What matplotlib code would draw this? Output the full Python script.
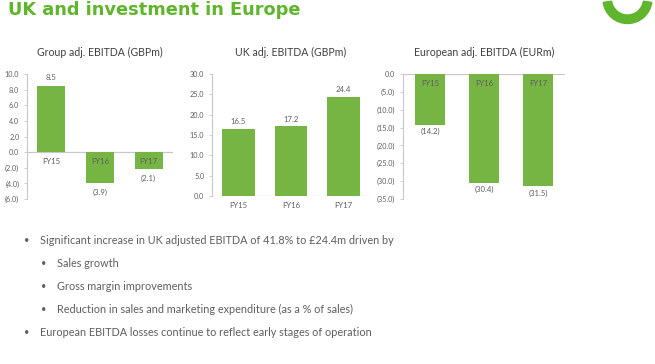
import matplotlib.pyplot as plt
from matplotlib.patches import Wedge

years = ['FY15', 'FY16', 'FY17']
group_ebitda = [8.5, -3.9, -2.1]
uk_ebitda = [16.5, 17.2, 24.4]
europe_ebitda = [-14.2, -30.4, -31.5]

group_ticks = [10, 8, 6, 4, 2, 0, -2, -4, -6]
uk_ticks = [30, 25, 20, 15, 10, 5, 0]
europe_ticks = [0, -5, -10, -15, -20, -25, -30, -35]

bullets = [
    (0, 'Significant increase in UK adjusted EBITDA of 41.8% to £24.4m driven by'),
    (1, 'Sales growth'),
    (1, 'Gross margin improvements'),
    (1, 'Reduction in sales and marketing expenditure (as a % of sales)'),
    (0, 'European EBITDA losses continue to reflect early stages of operation'),
]

green = '#76b543'
head_green = '#5fb52c'
txt = '#5e5e5e'
grid = '#c8c8c8'
plt.rcParams['font.family'] = ['Lato', 'DejaVu Sans']

W, H = 655, 364
fig = plt.figure(figsize=(W / 100, H / 100), dpi=100)

bg = fig.add_axes([0, 0, 1, 1])
bg.set_xlim(0, W)
bg.set_ylim(H, 0)
bg.axis('off')

bg.text(8, 15, 'UK and investment in Europe', color=head_green, fontsize=12.8,
        fontweight='bold', family='DejaVu Sans', va='baseline', ha='left')
bg.add_patch(Wedge((627.5, -1), 24.5, 8, 172, width=8.5, color=head_green))

y = 241
for level, line in bullets:
    bx = 24 if level == 0 else 41
    bg.text(bx, y, '•', color=txt, fontsize=6.5, va='center')
    bg.text(bx + 16, y, line, color=txt, fontsize=7.8, va='center')
    y += 22.8


def fmt(v):
    return f'{v:.1f}' if v >= 0 else f'({-v:.1f})'


def make_axes(px_left, px_right, px_top, px_bottom):
    return fig.add_axes([px_left / W, 1 - px_bottom / H,
                         (px_right - px_left) / W, (px_bottom - px_top) / H])


def style(ax, ticks, lo, hi, title):
    ax.set_ylim(lo, hi)
    ax.set_xlim(-0.5, 2.5)
    ax.set_yticks(ticks)
    ax.set_yticklabels([fmt(t) for t in ticks])
    ax.set_xticks([])
    for s in ['top', 'right', 'bottom']:
        ax.spines[s].set_visible(False)
    ax.spines['left'].set_color(grid)
    ax.spines['left'].set_linewidth(0.8)
    ax.tick_params(axis='y', colors=grid, labelcolor=txt, labelsize=5.2,
                   length=2.5, width=0.6, pad=3)
    ax.axhline(0, color=grid, lw=0.9, zorder=1)
    ax.set_title(title, color='#404040', fontsize=7.6, pad=13)
    ax.patch.set_alpha(0)


# Group
ax1 = make_axes(27, 173, 74, 199)
ax1.bar(range(3), group_ebitda, width=0.58, color=green, zorder=2)
style(ax1, group_ticks, -6, 10, 'Group adj. EBITDA (GBPm)')
for i, v in enumerate(group_ebitda):
    off = 3.5 if v >= 0 else -4.5
    ax1.annotate(fmt(v), (i, v), xytext=(0, off), textcoords='offset points',
                 ha='center', va='bottom' if v >= 0 else 'top', fontsize=5.6, color=txt)
    ax1.annotate(years[i], (i, 0), xytext=(0, -6.5), textcoords='offset points',
                 ha='center', va='center', fontsize=5.6, color=txt)

# UK
ax2 = make_axes(212, 370, 74, 196)
ax2.bar(range(3), uk_ebitda, width=0.62, color=green, zorder=2)
style(ax2, uk_ticks, 0, 30, 'UK adj. EBITDA (GBPm)')
for i, v in enumerate(uk_ebitda):
    ax2.annotate(fmt(v), (i, v), xytext=(0, 2.5), textcoords='offset points',
                 ha='center', va='bottom', fontsize=5.6, color=txt)
    ax2.annotate(years[i], (i, 0), xytext=(0, -6.5), textcoords='offset points',
                 ha='center', va='center', fontsize=5.6, color=txt)

# Europe
ax3 = make_axes(403, 565, 74, 199)
ax3.bar(range(3), europe_ebitda, width=0.57, color=green, zorder=2)
style(ax3, europe_ticks, -35, 0, 'European adj. EBITDA (EURm)')
for i, v in enumerate(europe_ebitda):
    ax3.annotate(fmt(v), (i, v), xytext=(0, -2.5), textcoords='offset points',
                 ha='center', va='top', fontsize=5.6, color=txt)
    ax3.annotate(years[i], (i, 0), xytext=(0, -6.5), textcoords='offset points',
                 ha='center', va='center', fontsize=5.6, color=txt)

fig.savefig('out.png', dpi=100)
